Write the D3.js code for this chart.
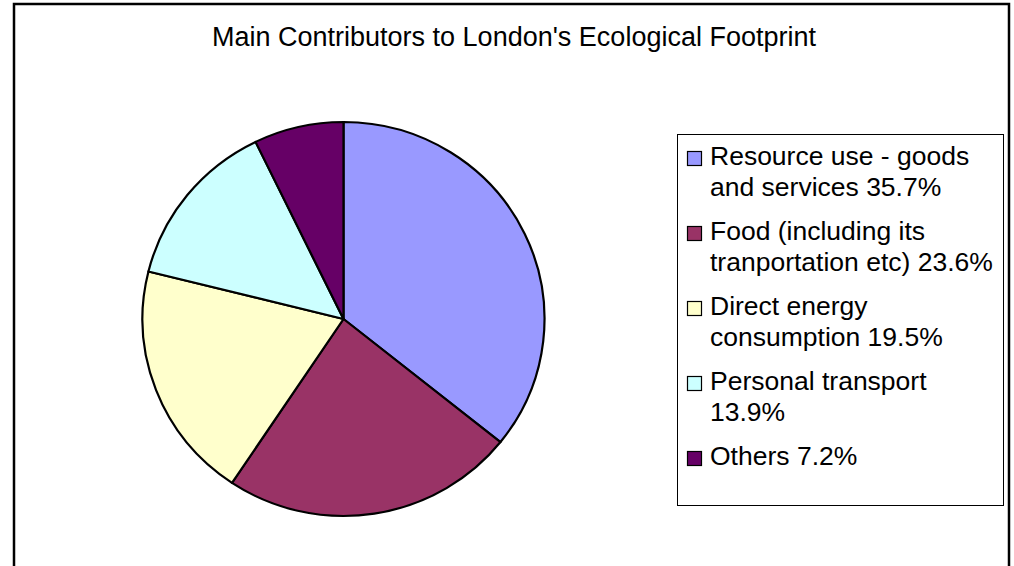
<!DOCTYPE html>
<html>
<head>
<meta charset="utf-8">
<script src="https://cdn.jsdelivr.net/npm/d3@7"></script>
<style>
  body { margin: 0; background: #fff; }
  text { font-family: "Liberation Sans", Arial, sans-serif; fill: #000; }
</style>
</head>
<body>
<div id="chart"></div>
<script>
// data
const categories = [
  "Resource use - goods and services",
  "Food (including its tranportation etc)",
  "Direct energy consumption",
  "Personal transport",
  "Others"
];
const values = [35.7, 23.6, 19.5, 13.9, 7.2];
// legend text as wrapped in the original
const legendLines = [
  ["Resource use - goods", "and services 35.7%"],
  ["Food (including its", "tranportation etc) 23.6%"],
  ["Direct energy", "consumption 19.5%"],
  ["Personal transport", "13.9%"],
  ["Others 7.2%"]
];
const colors = ["#9999FF", "#993366", "#FFFFCC", "#CCFFFF", "#660066"];

const data = categories.map((c, i) => ({ name: c, value: values[i], color: colors[i], lines: legendLines[i] }));

const svg = d3.select("#chart")
  .append("svg")
  .attr("width", 1014)
  .attr("height", 566);

// outer frame
svg.append("rect")
  .attr("x", 14).attr("y", 4)
  .attr("width", 995).attr("height", 600)
  .attr("fill", "#fff")
  .attr("stroke", "#000")
  .attr("stroke-width", 2.5);

// title
svg.append("text")
  .attr("x", 514).attr("y", 46)
  .attr("text-anchor", "middle")
  .style("font-size", "27px")
  .text("Main Contributors to London's Ecological Footprint");

// pie (excel style: start at 12 o'clock, clockwise)
const pie = d3.pie().value((d) => d.value).sort(null);
const arc = d3.arc().innerRadius(0).outerRadius(201);

const pieG = svg.append("g")
  .attr("transform", "translate(343.5, 319) scale(1, 0.98)");

pieG.selectAll("path")
  .data(pie(data))
  .join("path")
  .attr("d", arc)
  .attr("fill", (d) => d.data.color)
  .attr("stroke", "#000")
  .attr("stroke-width", 2.2)
  .attr("stroke-linejoin", "round")
  .attr("vector-effect", "non-scaling-stroke");

// legend
const legend = svg.append("g");
legend.append("rect")
  .attr("x", 677.5).attr("y", 134.5)
  .attr("width", 326).attr("height", 371)
  .attr("fill", "#fff")
  .attr("stroke", "#000")
  .attr("stroke-width", 1);

const yItem = d3.scaleLinear().domain([0, 1]).range([165, 240]);

const item = legend.selectAll("g.item")
  .data(data)
  .join("g")
  .attr("class", "item")
  .attr("transform", (d, i) => `translate(0, ${yItem(i)})`);

item.append("rect")
  .attr("x", 687.5).attr("y", -13.5)
  .attr("width", 14).attr("height", 14)
  .attr("fill", (d) => d.color)
  .attr("stroke", "#000")
  .attr("stroke-width", 1.2);

item.append("text")
  .attr("x", 710)
  .style("font-size", "26.5px")
  .selectAll("tspan")
  .data((d) => d.lines)
  .join("tspan")
  .attr("x", 710)
  .attr("y", (d, i) => i * 31)
  .text((d) => d);
</script>
</body>
</html>
